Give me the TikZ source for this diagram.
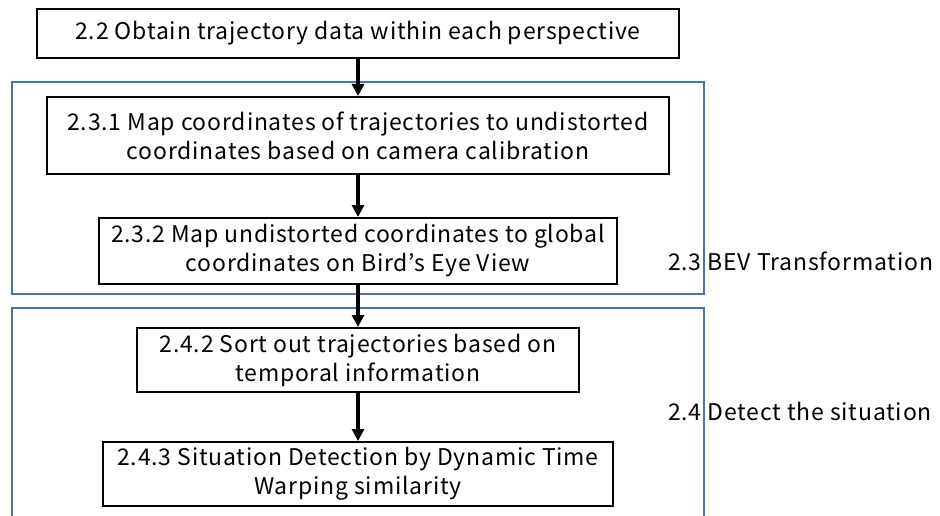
\documentclass[tikz,border=0pt]{standalone}
\usepackage{fontspec}
\setmainfont{Noto Sans CJK JP}[LetterSpace=3.5]
\usetikzlibrary{arrows.meta,positioning}
\definecolor{frameblue}{HTML}{4472C4}

\begin{document}
\begin{tikzpicture}[
  x=1pt, y=1pt,
  font=\fontsize{23}{29}\selectfont,
  box/.style={draw, line width=2pt, align=center, inner sep=0pt},
  frame/.style={draw=frameblue, line width=1.5pt},
  note/.style={anchor=west, inner sep=0pt},
  arr/.style={-{Triangle[length=12pt, width=12pt]}, line width=3.5pt}
]
\useasboundingbox (0,0) rectangle (940,-516);

\node[box, minimum width=642pt, minimum height=49pt] (obtain) at (358,-33.5)
  {2.2 Obtain trajectory data within each perspective};
\node[box, minimum width=622pt, minimum height=77pt, below=37pt of obtain] (undist)
  {2.3.1 Map coordinates of trajectories to undistorted\\coordinates based on camera calibration};
\node[box, minimum width=518pt, minimum height=66pt, below=42pt of undist] (global)
  {2.3.2 Map undistorted coordinates to global\\coordinates on Bird’s Eye View};
\node[box, minimum width=442pt, minimum height=64pt, below=42pt of global] (sort)
  {2.4.2 Sort out trajectories based on\\temporal information};
\node[box, minimum width=510pt, minimum height=64pt, below=48pt of sort] (dtw)
  {2.4.3 Situation Detection by Dynamic Time\\Warping similarity};

% section frames
\draw[frame] (12,-82) rectangle (704,-294);
\draw[frame] (12,-530) |- (704,-308) -- (704,-530);
\node[note] (bevnote) at (668,-261) {2.3 BEV Transformation};
\node[note] (detectnote) at (668,-411) {2.4 Detect the situation};

\draw[arr] (obtain) -- (undist);
\draw[arr] (undist) -- (global);
\draw[arr] (global) -- (sort);
\draw[arr] (sort) -- (dtw);
\end{tikzpicture}
\end{document}
